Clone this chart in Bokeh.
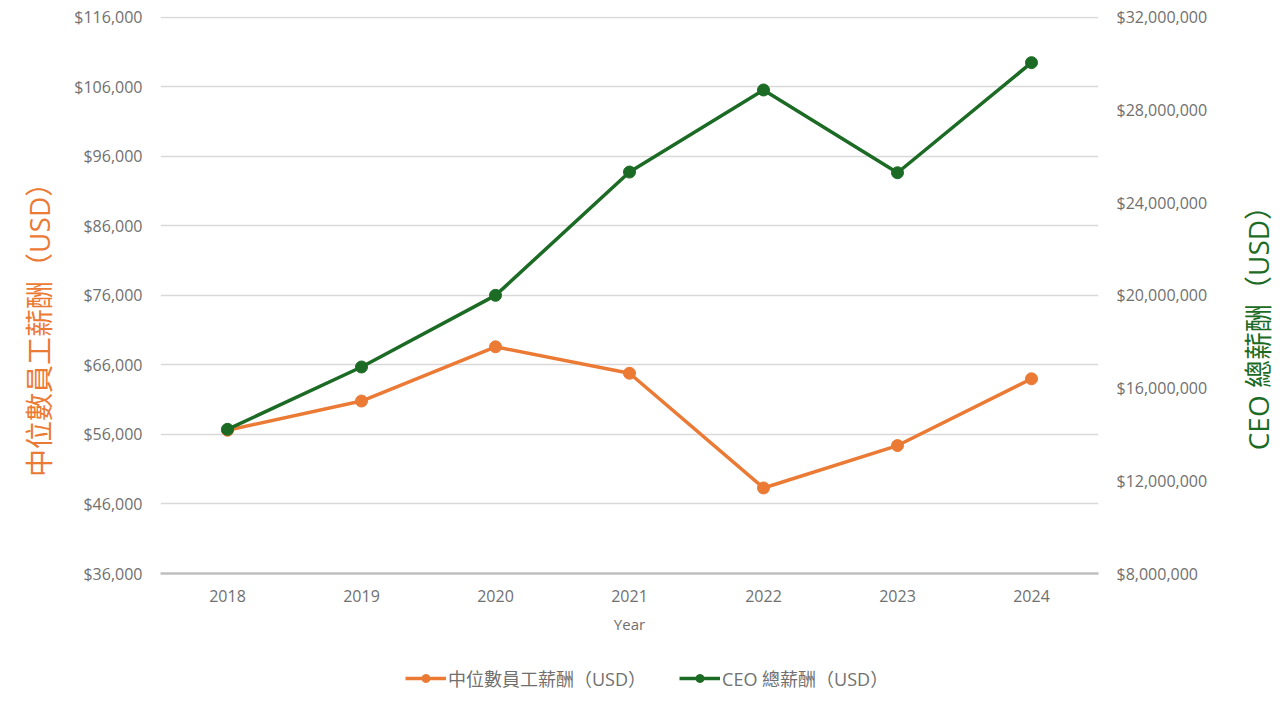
import math
from bokeh.plotting import figure
from bokeh.layouts import row, column
from bokeh.models import (Range1d, LinearAxis, FixedTicker, NumeralTickFormatter,
                          Legend, LegendItem, Label)
from bokeh.embed import file_html
from bokeh.resources import INLINE

years = [2018, 2019, 2020, 2021, 2022, 2023, 2024]
median_pay = [56600, 60800, 68600, 64800, 48300, 54400, 64000]
ceo_pay = [14220000, 16910000, 20000000, 25320000, 28860000, 25290000, 30040000]
left_ticks = [36000, 46000, 56000, 66000, 76000, 86000, 96000, 106000, 116000]
right_ticks = [8000000, 12000000, 16000000, 20000000, 24000000, 28000000, 32000000]
median_label = "中位數員工薪酬（USD）"
ceo_label = "CEO 總薪酬（USD）"
x_title = "Year"

ORANGE = "#EB7A35"
GREEN = "#1C6B25"
GRAY = "#707070"
FONT = "'Open Sans', 'Noto Sans CJK TC'"

ROW_H = 640


def blank(width, height):
    f = figure(width=width, height=height, output_backend="svg", toolbar_location=None,
               x_range=Range1d(0, width), y_range=Range1d(0, height),
               min_border=0, min_border_left=0, min_border_right=0,
               min_border_top=0, min_border_bottom=0)
    f.axis.visible = False
    f.grid.visible = False
    f.outline_line_color = None
    f.background_fill_color = "white"
    f.border_fill_color = "white"
    return f


p = figure(frame_width=938, frame_height=557, output_backend="svg", toolbar_location=None,
           x_range=Range1d(2017.5, 2024.5), y_range=Range1d(36000, 116100),
           min_border_left=90, min_border_right=122, min_border_top=16,
           min_border_bottom=ROW_H - 16 - 557)
p.extra_y_ranges = {"ceo": Range1d(8000000, 32030000)}
p.outline_line_color = None
p.background_fill_color = "white"
p.border_fill_color = "white"
p.xgrid.visible = False
p.ygrid.ticker = FixedTicker(ticks=left_ticks)
p.ygrid.grid_line_color = "#d9d9d9"
p.ygrid.grid_line_width = 1.5

xa = p.xaxis[0]
xa.ticker = FixedTicker(ticks=years)
xa.axis_line_color = "#bfbfbf"
xa.axis_line_width = 2.5
xa.major_tick_line_color = None
xa.minor_tick_line_color = None
xa.major_tick_out = 0
xa.minor_tick_out = 0
xa.major_label_standoff = 16
xa.major_label_text_font = FONT
xa.major_label_text_font_size = "16px"
xa.major_label_text_color = GRAY
xa.axis_label = x_title
xa.axis_label_text_font = FONT
xa.axis_label_text_font_style = "normal"
xa.axis_label_text_font_size = "15px"
xa.axis_label_text_color = GRAY
xa.axis_label_standoff = 9

ya = p.yaxis[0]
ya.ticker = FixedTicker(ticks=left_ticks)
ya.formatter = NumeralTickFormatter(format="$0,0")
ya.axis_line_color = None
ya.major_tick_line_color = None
ya.minor_tick_line_color = None
ya.major_tick_out = 0
ya.minor_tick_out = 0
ya.major_label_standoff = 18
ya.major_label_text_font = FONT
ya.major_label_text_font_size = "16px"
ya.major_label_text_color = GRAY

ra = LinearAxis(y_range_name="ceo", ticker=FixedTicker(ticks=right_ticks),
                formatter=NumeralTickFormatter(format="$0,0"))
ra.axis_line_color = None
ra.major_tick_line_color = None
ra.minor_tick_line_color = None
ra.major_tick_out = 0
ra.minor_tick_out = 0
ra.major_label_standoff = 18
ra.major_label_text_font = FONT
ra.major_label_text_font_size = "16px"
ra.major_label_text_color = GRAY
p.add_layout(ra, "right")

p.line(years, median_pay, line_color=ORANGE, line_width=3.5)
p.scatter(years, median_pay, size=12, fill_color=ORANGE, line_color=ORANGE)
p.line(years, ceo_pay, line_color=GREEN, line_width=3.5, y_range_name="ceo")
p.scatter(years, ceo_pay, size=12, fill_color=GREEN, line_color=GREEN, y_range_name="ceo")

# left and right axis titles
lt = blank(70, ROW_H)
lt.add_layout(Label(x=38, y=ROW_H - 352, text=median_label, angle=math.pi / 2,
                    text_align="center", text_baseline="middle",
                    text_font=FONT, text_font_size="28px", text_color=ORANGE))
rt = blank(60, ROW_H)
rt.add_layout(Label(x=37, y=ROW_H - 350, text=ceo_label, angle=math.pi / 2,
                    text_align="center", text_baseline="middle",
                    text_font=FONT, text_font_size="28px", text_color=GREEN))

# legend strip (its series lie outside this strip's visible ranges; only the legend shows)
lf = blank(1280, 708 - ROW_H)
e1 = lf.line(years, median_pay, line_color=ORANGE, line_width=3.5)
e2 = lf.scatter(years, median_pay, size=9, fill_color=ORANGE, line_color=ORANGE)
e3 = lf.line(years, ceo_pay, line_color=GREEN, line_width=3.5)
e4 = lf.scatter(years, ceo_pay, size=9, fill_color=GREEN, line_color=GREEN)
legend = Legend(items=[LegendItem(label=median_label, renderers=[e1, e2]),
                       LegendItem(label=ceo_label, renderers=[e3, e4])],
                orientation="horizontal", location=(405, 17),
                border_line_color=None, background_fill_alpha=0,
                label_text_font=FONT, label_text_font_size="18px",
                label_text_color=GRAY, glyph_width=41, spacing=33,
                label_standoff=2, padding=0, margin=0)
lf.add_layout(legend, "center")

layout = column(row(lt, p, rt, spacing=0), lf, spacing=0)
open("out.html", "w").write(file_html(layout, INLINE))
